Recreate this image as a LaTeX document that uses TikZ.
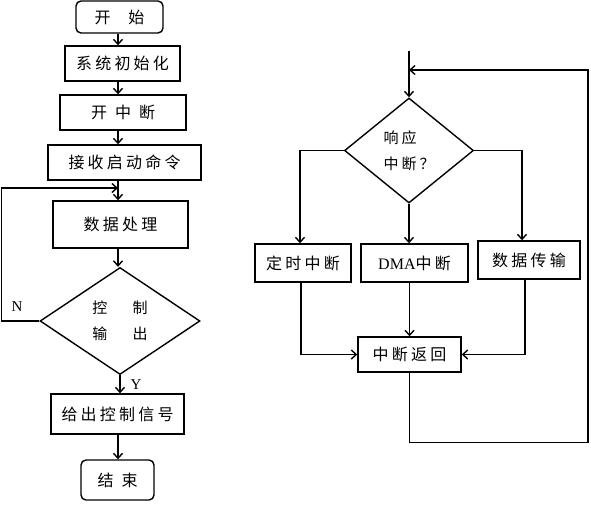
\documentclass[tikz,border=0pt]{standalone}
\usepackage{fontspec}
\setmainfont{Liberation Serif}
\newfontfamily\cjk[LetterSpace=20]{Noto Sans CJK SC}
\usetikzlibrary{arrows.meta,positioning,shapes.geometric}

\begin{document}
\begin{tikzpicture}[
  x=1pt, y=-1pt,
  box/.style={draw, line width=1.4pt, inner sep=0pt, minimum height=35pt, font=\cjk\fontsize{16}{19}\selectfont},
  term/.style={box, rounded corners=5pt},
  dec/.style={draw, diamond, line width=1.4pt, inner sep=0pt, align=center, font=\cjk\fontsize{15}{26}\selectfont},
  arr/.style={-{Straight Barb[length=5pt,width=9pt]}, line width=1.4pt},
  lab/.style={font=\fontsize{15}{18}\selectfont},
]
  \useasboundingbox (0,0) rectangle (591,504);

  % Main program
  \node[term, minimum width=87pt, minimum height=32pt] (start) at (119.5,17) {开\hspace{1.1em}始};
  \node[box, minimum width=115pt] (init) at (122.5,63.5) {系统初始化};
  \node[box, minimum width=126pt] (intr) at (123,112.5) {开\hspace{.5em}中\hspace{.5em}断};
  \node[box, minimum width=153pt] (recv) at (124.5,162.5) {接收启动命令};
  \node[box, minimum width=135pt, minimum height=47pt] (proc) at (120.5,224.5) {数据处理};
  \node[dec, minimum width=160pt, minimum height=107pt] (ctrl) at (120,321) {控\hspace{1.7em}制\\输\hspace{1.7em}出};
  \node[box, minimum width=133pt, minimum height=40pt] (sig) at (117.5,414) {给出控制信号};
  \node[term, minimum width=73pt, minimum height=40pt] (stop) at (117.5,480) {结\hspace{.5em}束};

  \coordinate (ax) at (118,0);
  \coordinate (loop) at (118,188);

  % Arrows
  \foreach \a/\b in {start/init, init/intr, intr/recv, recv/proc, sig/stop}
    \draw[arr] (\a.south -| ax) -- (\b.north -| ax);
  \draw[arr] (proc.south -| ax) -- (ctrl.north -| ax);
  \draw[arr] (ctrl.south) -- (ctrl.south |- sig.north);
  \draw[arr] (ctrl.west) -- ++(-38,0) |- (loop);

  \node[lab] (ylab) at (136,385) {Y};
  \node[lab] (nlab) at (17,307) {N};

  % Interrupt service
  \coordinate (in) at (409,51);
  \coordinate (back) at (409,70);
  \node[dec, minimum width=129pt, minimum height=105pt, align=left] (resp) at (409,150.5) {响应\\中断？};
  \node[box, minimum width=96pt, minimum height=38pt] (timer) at (303,263) {定时中断};
  \node[box, minimum width=107pt, minimum height=38pt] (dma) at (414.5,263) {{\rmfamily DMA}中断};
  \node[box, minimum width=102pt, minimum height=38pt] (xfer) at (529,260) {数据传输};
  \node[box, minimum width=103pt, minimum height=35pt] (ret) at (409.5,354.5) {中断返回};

  \draw[arr] (in) -- (resp.north);
  \draw[arr] (resp.west) -| ([xshift=-3pt]timer.north);
  \draw[arr] (resp.south) -- (resp.south |- dma.north);
  \draw[arr] (resp.east) -| ([xshift=-7pt]xfer.north);
  \draw[arr] ([xshift=-2pt]timer.south) |- (ret.west);
  \draw[arr] (ret.north |- dma.south) -- (ret.north);
  \draw[arr] ([xshift=-4pt]xfer.south) |- (ret.east);
  \draw[arr] (ret.south) -- ++(0,70) -| (588,70) -- (back);
\end{tikzpicture}
\end{document}
